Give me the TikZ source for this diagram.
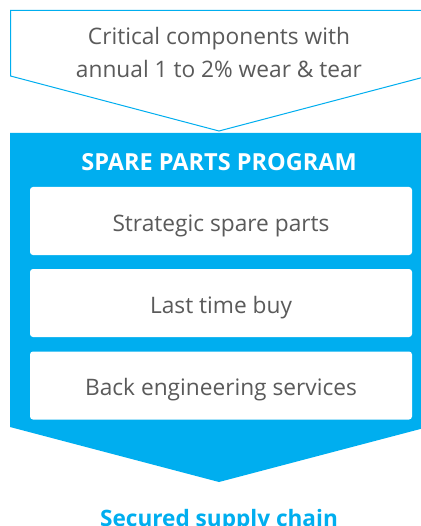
\documentclass[tikz,border=0pt]{standalone}
\usepackage{fontspec}
\setmainfont{Open Sans}
\definecolor{progblue}{RGB}{0,174,239}
\definecolor{bodygray}{RGB}{90,90,90}
\tikzset{
  inputarrow/.style={draw=progblue,fill=white,line width=1pt},
  programarrow/.style={fill=progblue,draw=none},
  itembox/.style={fill=white,draw=none,rounded corners=3pt,minimum width=382pt,minimum height=68pt,inner sep=0pt,text height=20pt,text depth=0pt,text=bodygray,font=\fontsize{22.7}{26}\selectfont},
}

\begin{document}
\begin{tikzpicture}[x=1pt,y=-1pt]
\useasboundingbox (0,0) rectangle (420,526);
% incoming arrow
\path[inputarrow] (10.5,10.5) -- (428,10.5) -- (428,76) -- (219,131) -- (10.5,76) -- cycle;
\node[align=center,text=bodygray,font=\fontsize{22.7}{33}\selectfont] (input-text) at (219,52.5) {Critical components with\\annual 1 to 2\% wear \& tear};
% program block
\path[programarrow] (10,133) -- (428,133) -- (428,427) -- (219,482) -- (10,427) -- cycle;
\node[anchor=base,text=white,font=\bfseries\fontsize{23.5}{26}\selectfont] (program-title) at (219,171) {SPARE PARTS PROGRAM};
\node[itembox] (item-0) at (221,221) {Strategic spare parts};
\node[itembox] (item-1) at (221,303) {Last time buy};
\node[itembox] (item-2) at (221,385.5) {Back engineering services};
% outcome
\node[anchor=base,text=progblue,font=\bfseries\fontsize{22.6}{26}\selectfont] (outcome) at (219,526) {Secured supply chain};
\end{tikzpicture}
\end{document}
